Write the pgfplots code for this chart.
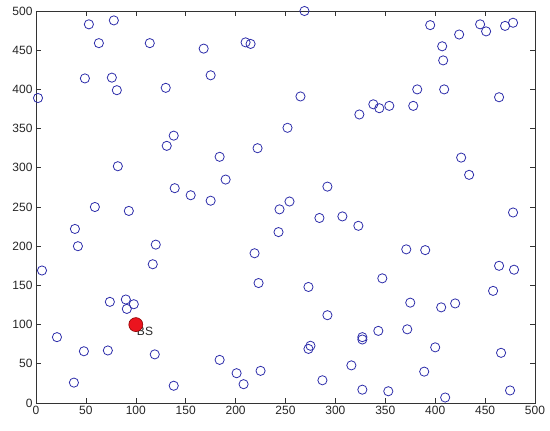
\documentclass[border=0pt]{standalone}
\usepackage{fontspec}
\setmainfont{Liberation Sans}
\usepackage{pgfplots}
\pgfplotsset{compat=1.18}
\definecolor{NodeBlue}{RGB}{45,45,170}
\definecolor{BSRed}{RGB}{235,20,30}
\begin{document}
\begin{tikzpicture}
\begin{axis}[
    name=ax,
    scale only axis,
    width=499pt, height=392pt,
    xmin=0, xmax=500, ymin=0, ymax=500,
    xtick distance=50, ytick distance=50,
    tick align=inside,
    major tick length=5pt,
    axis line style={draw=black!80, line width=0.6pt},
    tick style={draw=black!80, line width=0.6pt},
    ticklabel style={font=\fontsize{12}{14}\selectfont, color=black!85},
    /pgf/number format/assume math mode=true,
    clip=false,
]
\addplot[only marks, mark=o, mark size=4.6pt, color=NodeBlue, line width=0.8pt] coordinates {
  (53,483)(78,488)(63,459)(114,459)(49,414)(76,415)(81,399)(130,402)(2,389)(138,341)
  (131,328)(82,302)(139,274)(155,265)(269,500)(168,452)(210,460)(215,458)(175,418)(265,391)
  (324,368)(252,351)(222,325)(184,314)(190,285)(175,258)(292,276)(254,257)(244,247)(395,482)
  (424,470)(445,483)(451,474)(470,481)(478,485)(407,455)(408,437)(382,400)(409,400)(464,390)
  (338,381)(344,376)(354,379)(378,379)(426,313)(434,291)(478,243)(59,250)(93,245)(39,222)
  (42,200)(120,202)(117,177)(6,169)(74,129)(90,132)(98,126)(91,120)(21,84)(48,66)
  (72,67)(119,62)(38,26)(138,22)(284,236)(307,238)(323,226)(243,218)(219,191)(223,153)
  (273,148)(292,112)(327,84)(327,81)(275,73)(273,69)(184,55)(316,48)(201,38)(225,41)
  (208,24)(287,29)(327,17)(371,196)(390,195)(464,175)(479,170)(347,159)(458,143)(375,128)
  (406,122)(420,127)(343,92)(372,94)(400,71)(466,64)(389,40)(353,15)(475,16)(410,7)
};
\addplot[only marks, mark=*, mark size=7pt, mark options={draw=red!55!black, fill=BSRed, line width=0.6pt}] coordinates {(100,100)};
\node[anchor=west, inner sep=0pt, font=\fontsize{12}{14}\selectfont, text=black!85] at (axis cs:101,92) {BS};
\end{axis}
\path ([xshift=-36pt,yshift=-27pt]ax.south west) rectangle ([xshift=15pt,yshift=11pt]ax.north east);
\end{tikzpicture}
\end{document}
